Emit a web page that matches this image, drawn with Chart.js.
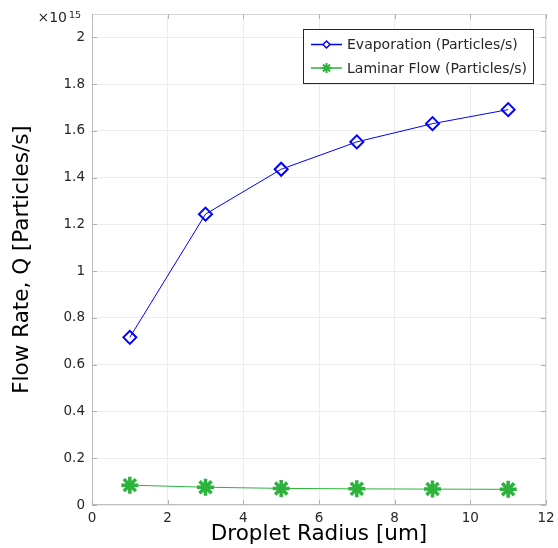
<!DOCTYPE html>
<html>
<head>
<meta charset="utf-8">
<script src="https://cdn.jsdelivr.net/npm/chart.js@4"></script>
<style>
  html, body { margin: 0; padding: 0; background: #fff; }
  #wrap { width: 558px; height: 548px; position: relative; }
</style>
</head>
<body>
<div id="wrap"><canvas id="flowChart"></canvas></div>
<script>
// droplet radius in um, flow rates in units of 1e15 particles/s
const radius = [1, 3, 5, 7, 9, 11];
const evaporation = [0.717, 1.244, 1.436, 1.553, 1.631, 1.691];
const laminar = [0.085, 0.076, 0.071, 0.069, 0.068, 0.067];
const xTicks = [0, 2, 4, 6, 8, 10, 12];
const yTicks = [0, 0.2, 0.4, 0.6, 0.8, 1, 1.2, 1.4, 1.6, 1.8, 2];

const FONT = "'DejaVu Sans', sans-serif";
const TEXT = "#262626";
const BLUE = "#0000ff";
const GREEN = "#2bb33b";

const toPoints = (ys) => radius.map((x, i) => ({ x, y: ys[i] }));

// box around the plot area with MATLAB-style inward ticks, plus the exponent label
const frame = {
  id: "frame",
  beforeDatasetsDraw(chart) {
    const { ctx, chartArea: a, scales } = chart;
    ctx.save();
    ctx.lineWidth = 1;
    ctx.strokeStyle = "#d6d6d6";
    ctx.beginPath();
    ctx.moveTo(a.left, a.top + 0.5);
    ctx.lineTo(a.right - 0.5, a.top + 0.5);
    ctx.lineTo(a.right - 0.5, a.bottom);
    ctx.stroke();
    ctx.strokeStyle = "#bdbdbd";
    ctx.beginPath();
    ctx.moveTo(a.left + 0.5, a.top);
    ctx.lineTo(a.left + 0.5, a.bottom - 0.5);
    ctx.lineTo(a.right, a.bottom - 0.5);
    ctx.stroke();
    ctx.strokeStyle = "#b0b0b0";
    ctx.beginPath();
    yTicks.forEach((v) => {
      const y = Math.round(scales.y.getPixelForValue(v)) + 0.5;
      ctx.moveTo(a.left, y); ctx.lineTo(a.left + 5, y);
      ctx.moveTo(a.right, y); ctx.lineTo(a.right - 5, y);
    });
    xTicks.forEach((v) => {
      const x = Math.round(scales.x.getPixelForValue(v)) + 0.5;
      ctx.moveTo(x, a.bottom); ctx.lineTo(x, a.bottom - 5);
      ctx.moveTo(x, a.top); ctx.lineTo(x, a.top + 5);
    });
    ctx.stroke();
    ctx.restore();
  },
  afterDraw(chart) {
    const { ctx } = chart;
    ctx.save();
    ctx.fillStyle = TEXT;
    ctx.textBaseline = "alphabetic";
    ctx.textAlign = "right";
    ctx.font = "9.5px " + FONT;
    ctx.fillText("15", 81, 18);
    ctx.font = "14px " + FONT;
    ctx.fillText("\u00d710", 67, 22);
    ctx.restore();
  },
};

// boxed legend in the upper right of the plot
const boxLegend = {
  id: "boxLegend",
  afterDraw(chart) {
    const { ctx } = chart;
    const left = 303, top = 29, w = 230, h = 54;
    ctx.save();
    ctx.fillStyle = "#fff";
    ctx.fillRect(left, top, w, h);
    ctx.strokeStyle = "#262626";
    ctx.lineWidth = 1;
    ctx.strokeRect(left + 0.5, top + 0.5, w, h);
    chart.data.datasets.forEach((ds, i) => {
      const y = top + 15.5 + i * 23.5;
      ctx.strokeStyle = ds.borderColor;
      ctx.lineWidth = 1.5;
      ctx.beginPath();
      ctx.moveTo(311, y);
      ctx.lineTo(342, y);
      ctx.stroke();
      ctx.fillStyle = "#fff";
      ctx.lineWidth = ds.legendMarker.borderWidth;
      Chart.helpers.drawPoint(ctx, {
        pointStyle: ds.pointStyle,
        radius: ds.legendMarker.radius,
        borderWidth: ds.legendMarker.borderWidth,
        rotation: 0,
      }, 326.5, y);
      ctx.fillStyle = TEXT;
      ctx.font = "14px " + FONT;
      ctx.textAlign = "left";
      ctx.textBaseline = "middle";
      ctx.fillText(ds.label, 347, y + 1);
    });
    ctx.restore();
  },
};

new Chart(document.getElementById("flowChart"), {
  type: "line",
  data: {
    datasets: [
      {
        label: "Evaporation (Particles/s)",
        data: toPoints(evaporation),
        borderColor: BLUE,
        borderWidth: 1,
        pointStyle: "rectRot",
        pointRadius: 6.5,
        pointBorderWidth: 2,
        pointBackgroundColor: "rgba(255,255,255,0)",
        pointBorderColor: BLUE,
        legendMarker: { radius: 3.5, borderWidth: 1.5 },
      },
      {
        label: "Laminar Flow (Particles/s)",
        data: toPoints(laminar),
        borderColor: GREEN,
        borderWidth: 1,
        pointStyle: "star",
        pointRadius: 8.5,
        pointBorderWidth: 3.5,
        pointBorderColor: GREEN,
        legendMarker: { radius: 5, borderWidth: 2 },
      },
    ],
  },
  options: {
    responsive: true,
    maintainAspectRatio: false,
    animation: false,
    layout: { padding: { top: 14, right: 7, left: 0, bottom: 0 } },
    plugins: { legend: { display: false }, tooltip: { enabled: false } },
    scales: {
      x: {
        type: "linear",
        min: 0,
        max: 12,
        afterBuildTicks: (s) => { s.ticks = xTicks.map((value) => ({ value })); },
        afterFit: (s) => { s.height = 43; s.paddingLeft = 0; s.paddingRight = 0; },
        grid: { color: "#ececec", drawTicks: false },
        border: { display: false },
        ticks: { padding: 5, color: TEXT, font: { family: FONT, size: 13.5 }, maxRotation: 0 },
        title: {
          display: true,
          text: "Droplet Radius [um]",
          color: "#000",
          font: { family: FONT, size: 21.5 },
          padding: { top: 0, bottom: 1 },
        },
      },
      y: {
        min: 0,
        max: 2.1,
        afterBuildTicks: (s) => { s.ticks = yTicks.map((value) => ({ value })); },
        afterFit: (s) => { s.width = 92; s.paddingTop = 0; s.paddingBottom = 0; },
        grid: { color: "#ececec", drawTicks: false },
        border: { display: false },
        ticks: {
          padding: 7,
          color: TEXT,
          font: { family: FONT, size: 13.5 },
          callback: (v) => String(Number(v.toFixed(1))),
        },
        title: {
          display: true,
          text: "Flow Rate, Q [Particles/s]",
          color: "#000",
          font: { family: FONT, size: 21.5 },
          padding: { top: 10, bottom: 0 },
        },
      },
    },
  },
  plugins: [frame, boxLegend],
});
</script>
</body>
</html>
